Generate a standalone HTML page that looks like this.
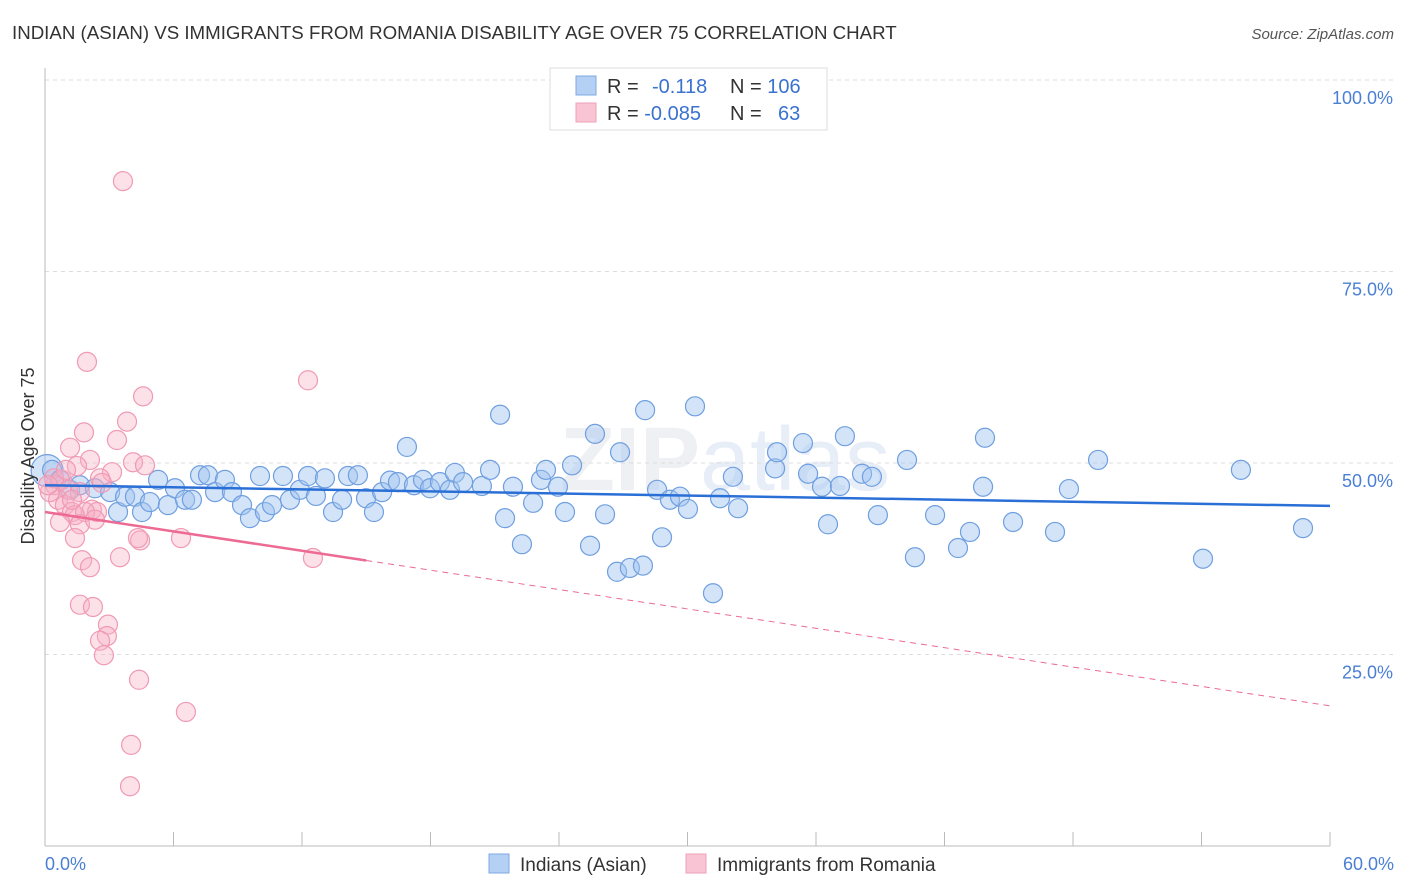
<!DOCTYPE html>
<html><head><meta charset="utf-8"><style>
body{margin:0;background:#fff;font-family:"Liberation Sans",sans-serif}
svg{display:block}
</style></head><body>
<svg id="chart" width="1406" height="892" xmlns="http://www.w3.org/2000/svg" font-family="Liberation Sans, sans-serif">
<text x="12" y="39" font-size="18.7" fill="#333">INDIAN (ASIAN) VS IMMIGRANTS FROM ROMANIA DISABILITY AGE OVER 75 CORRELATION CHART</text>
<text x="1394" y="39" font-size="15" fill="#555" text-anchor="end" font-style="italic">Source: ZipAtlas.com</text>
<text x="560" y="490" font-size="90" fill="#eef0f4" font-weight="bold">ZIP<tspan font-weight="normal" fill="#e7eef8">atlas</tspan></text>
<g id="grid"></g>
<g id="axes"></g>
<g id="pts"></g>
<g id="trends"></g>
<text transform="translate(34,456) rotate(-90)" font-size="18" fill="#333" text-anchor="middle">Disability Age Over 75</text>
<text x="45" y="870" font-size="18" fill="#4a7fd4">0.0%</text>
<text x="1394" y="870" font-size="18" fill="#4a7fd4" text-anchor="end">60.0%</text>
<g>
<rect x="550" y="68" width="277" height="62" fill="#fff" stroke="#ddd"/>
<rect x="576" y="76" width="20" height="19" fill="#b5d0f5" stroke="#7fa8e0"/>
<rect x="576" y="103" width="20" height="19" fill="#f9c4d4" stroke="#f0a0b8"/>
<text x="607" y="93" font-size="20" fill="#333">R = <tspan fill="#3a72d0" x="652">-0.118</tspan><tspan x="730" fill="#333">N = </tspan><tspan fill="#3a72d0">106</tspan></text>
<text x="607" y="120" font-size="20" fill="#333">R = <tspan fill="#3a72d0">-0.085</tspan><tspan x="730" fill="#333">N = </tspan><tspan fill="#3a72d0" x="778">63</tspan></text>
</g>
<g>
<rect x="489" y="854" width="20" height="19" fill="#b5d0f5" stroke="#7fa8e0"/>
<text x="520" y="871" font-size="19" fill="#333">Indians (Asian)</text>
<rect x="686" y="854" width="20" height="19" fill="#f9c4d4" stroke="#f0a0b8"/>
<text x="717" y="871" font-size="19" fill="#333">Immigrants from Romania</text>
</g>
</svg>
<script>
const blueX=[0.33,0.7,1.17,1.63,2.33,3.04,3.41,3.74,4.2,4.53,4.9,5.28,5.74,6.07,6.54,6.86,7.24,7.61,7.94,8.4,8.73,9.2,9.57,10.04,10.27,10.6,11.11,11.44,11.9,12.28,12.65,13.07,13.45,13.87,14.15,14.61,14.99,15.36,15.74,16.11,16.48,16.9,17.23,17.65,17.98,18.44,18.91,19.14,19.52,20.4,20.78,21.25,21.48,21.85,22.27,22.79,23.16,23.39,23.95,24.28,24.61,25.45,25.68,26.15,26.71,26.85,27.31,27.92,28.02,28.58,28.81,29.18,29.65,30.02,30.35,31.19,31.52,32.12,32.36,34.09,34.18,35.39,35.63,36.28,36.56,37.12,37.35,38.15,38.61,38.89,40.25,40.62,41.56,42.63,43.19,43.89,43.8,45.2,47.16,47.81,49.17,54.07,55.84,58.74];
const blueY=[49.1,47.8,46.5,47.1,46.7,46.2,43.6,45.6,45.6,43.6,44.9,47.8,44.5,46.7,45.2,45.2,48.4,48.4,46.2,47.8,46.2,44.5,42.8,48.3,43.6,44.5,48.3,45.2,46.5,48.3,45.7,48.0,43.6,45.2,48.3,48.4,45.4,43.6,46.2,47.7,47.5,52.1,47.1,47.8,46.7,47.5,46.5,48.7,47.5,47.0,49.1,56.3,42.8,46.9,39.4,44.8,47.8,49.1,46.9,43.6,49.7,39.2,53.8,43.3,35.8,51.4,36.3,36.6,56.9,46.5,40.3,45.2,45.6,44.0,57.4,33.0,45.4,48.2,44.1,49.3,51.4,52.6,48.6,46.9,42.0,47.0,53.5,48.6,48.2,43.2,50.4,37.7,43.2,38.9,41.0,53.3,46.9,42.3,41.0,46.6,50.4,37.5,49.1,41.5];
const pinkX=[3.64,1.96,4.58,12.28,3.83,1.82,3.36,1.17,4.11,4.67,2.1,1.49,3.13,2.57,0.79,0.47,1.07,1.63,0.61,0.93,2.19,1.26,1.4,2.43,1.87,0.7,1.63,1.4,4.44,4.34,6.35,1.73,2.1,3.5,12.51,1.63,2.24,2.94,2.89,2.57,2.75,4.39,6.58,4.02,3.97,0.23,0.42,0.98,1.26,0.14,2.33,2.66];
const pinkY=[86.8,63.2,58.7,60.8,55.4,54.0,53.0,52.0,50.1,49.7,50.4,49.6,48.8,48.0,47.8,47.1,46.5,46.2,45.2,44.5,43.9,43.6,43.2,43.6,43.6,42.3,42.0,40.2,39.9,40.2,40.2,37.3,36.4,37.7,37.6,31.5,31.2,28.9,27.4,26.8,24.9,21.7,17.5,13.2,7.8,46.2,48.0,49.1,45.2,47.1,42.6,47.4];
const bigBlueX=[0.1];
const bigBlueY=[49.0];
const blueTrend=[47.1,44.4];
const pinkTrend=[43.6,18.3];
const pinkSolidEnd=15;
const yTicks=[25,50,75,100];
const yTickLabels=["25.0%","50.0%","75.0%","100.0%"];
const xTicks=[0,6,12,18,24,30,36,42,48,54,60];

const NS="http://www.w3.org/2000/svg";
const sx=v=>45+v/60*1285;
const sy=v=>846-v/25*191.5;
function mk(tag,attrs,parent){const e=document.createElementNS(NS,tag);for(const k in attrs)e.setAttribute(k,attrs[k]);parent.appendChild(e);return e;}
const grid=document.getElementById('grid'),axes=document.getElementById('axes'),pts=document.getElementById('pts'),tr=document.getElementById('trends');
yTicks.forEach((t,i)=>{
  const l=mk('line',{x1:45,x2:1394,y1:sy(t),y2:sy(t),stroke:'#ddd','stroke-dasharray':'4,4'},grid);
  
  
  const tx=mk('text',{x:1393,y:sy(t)+24,'font-size':18,fill:'#4a7fd4','text-anchor':'end'},grid);
  tx.textContent=yTickLabels[i];
  
  
});
const ya=mk('line',{x1:45,x2:45,y1:68,y2:846,stroke:'#bbb'},axes);


const xa=mk('line',{x1:45,x2:1330,y1:846,y2:846,stroke:'#bbb'},axes);


xTicks.forEach(t=>{
  const l=mk('line',{x1:sx(t),x2:sx(t),y1:832,y2:846,stroke:'#bbb'},axes);
  
  
});
bigBlueX.forEach((x,i)=>{
  const c=mk('circle',{cx:sx(x),cy:sy(bigBlueY[i]),r:16,fill:'rgba(160,195,240,0.45)',stroke:'#6f9fe0','stroke-width':1.2},pts);
  
  
});
blueX.forEach((x,i)=>{
  const c=mk('circle',{cx:sx(x),cy:sy(blueY[i]),r:9.5,fill:'rgba(160,195,240,0.45)',stroke:'#6f9fe0','stroke-width':1.2},pts);
  
  
});
pinkX.forEach((x,i)=>{
  const c=mk('circle',{cx:sx(x),cy:sy(pinkY[i]),r:9.5,fill:'rgba(247,175,198,0.38)',stroke:'#f09ab5','stroke-width':1.2},pts);
  
  
});
const bt=mk('line',{x1:sx(0),y1:sy(blueTrend[0]),x2:sx(60),y2:sy(blueTrend[1]),stroke:'#2a6fd6','stroke-width':2.5},tr);


const pAt=x=>pinkTrend[0]+(pinkTrend[1]-pinkTrend[0])*x/60;
const ps=mk('line',{x1:sx(0),y1:sy(pAt(0)),x2:sx(pinkSolidEnd),y2:sy(pAt(pinkSolidEnd)),stroke:'#ec6a93','stroke-width':2.5},tr);


const pd=mk('line',{x1:sx(pinkSolidEnd),y1:sy(pAt(pinkSolidEnd)),x2:sx(60),y2:sy(pAt(60)),stroke:'#ec6a93','stroke-width':1,'stroke-dasharray':'6,5'},tr);


</script>
</body></html>
